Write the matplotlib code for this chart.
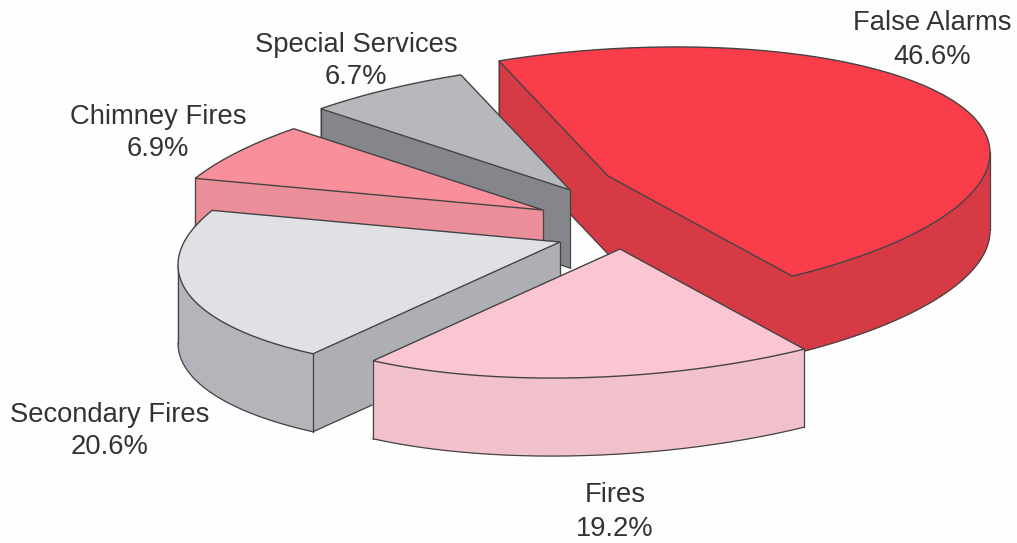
import matplotlib
matplotlib.use('Agg')
import matplotlib.pyplot as plt
import numpy as np

plt.rcParams['font.family'] = ['Liberation Sans', 'DejaVu Sans']

# slices in clockwise order from the start angle
labels = ['False Alarms', 'Fires', 'Secondary Fires', 'Chimney Fires', 'Special Services']
values = [46.6, 19.2, 20.6, 6.9, 6.7]

# style and layout, in image pixels
top_colors = ['#f93d4a', '#fbc6d2', '#dfe1e5', '#f98f9b', '#b7b8bc']
cut_colors = ['#d63a44', '#f1c2cc', '#aeafb4', '#ea8f99', '#85868b']
arc_colors = ['#d63a44', '#f1c2cc', '#b4b5ba', '#ea8f99', '#85868b']
apex_x = [608, 620, 560, 543, 570]
apex_y = [176, 249, 242, 210, 190]
label_x = [932, 615, 110, 158, 356]
label_y = [40, 512, 431, 133, 61]
paint_order = [0, 4, 3, 2, 1]  # back to front

start_angle = 106.6
rad_x = 382
rad_y = 127
tilt = -23
depth = 78
edge = '#444444'


def rim(cx, cy, t):
    return cx + rad_x * np.cos(t), cy - rad_y * np.sin(t) + tilt * np.cos(t)


def cut_visible(cx, cy, px, py, qx, qy):
    # the face under apex-p shows when the far rim point q lies above that edge
    line_y = cy + (py - cy) * (qx - cx) / (px - cx)
    return qy < line_y


fig, ax = plt.subplots(figsize=(10.17, 5.43), dpi=100)
fig.subplots_adjust(0, 0, 1, 1)
fig.patch.set_facecolor('#fefefe')
ax.set_xlim(0, 1017)
ax.set_ylim(543, 0)
ax.axis('off')

sweeps = [v * 360 / sum(values) for v in values]
starts = [start_angle - sum(sweeps[:i]) for i in range(len(values))]

for z, i in enumerate(paint_order):
    t = np.radians(np.linspace(starts[i], starts[i] - sweeps[i], 200))
    cx, cy = apex_x[i], apex_y[i]
    x, y = rim(cx, cy, t)
    zo = z * 3 + 1

    # outer wall, front half of the rim only
    front = np.sin(t) < 0
    if front.any():
        fx, fy = x[front], y[front]
        ax.fill(np.r_[fx, fx[::-1]], np.r_[fy, fy[::-1] + depth],
                facecolor=arc_colors[i], edgecolor=arc_colors[i], lw=0.5, zorder=zo)
        ax.plot(fx, fy + depth, color=edge, lw=0.9, zorder=zo + 1)

    # cut faces that look towards the viewer
    shown = []
    for j, k in [(0, -1), (-1, 0)]:
        vis = cut_visible(cx, cy, x[j], y[j], x[k], y[k])
        shown.append(vis)
        if vis:
            ax.fill([cx, x[j], x[j], cx], [cy, y[j], y[j] + depth, cy + depth],
                    facecolor=cut_colors[i], edgecolor=cut_colors[i], lw=0.5, zorder=zo)
            ax.plot([cx, x[j]], [cy + depth, y[j] + depth], color=edge, lw=0.9, zorder=zo + 1)

    # vertical edges
    if shown[0] != shown[1]:
        ax.plot([cx, cx], [cy, cy + depth], color=edge, lw=0.9, zorder=zo + 1)
    for j, vis in zip([0, -1], shown):
        wall = front[j]
        if (vis != wall) or (vis and wall and cut_colors[i] != arc_colors[i]):
            ax.plot([x[j], x[j]], [y[j], y[j] + depth], color=edge, lw=0.9, zorder=zo + 1)
    for n in range(len(t) - 1):
        # sides of the rim, where it turns from back to front
        if front[n] != front[n + 1]:
            ax.plot([x[n], x[n]], [y[n], y[n] + depth], color=edge, lw=0.9, zorder=zo + 1)

    # top
    ax.fill(np.r_[cx, x], np.r_[cy, y],
            facecolor=top_colors[i], edgecolor=edge, lw=1.0, zorder=zo + 2)

for i in range(len(values)):
    ax.text(label_x[i], label_y[i], '%s\n%.1f%%' % (labels[i], values[i]), ha='center', va='center',
            fontsize=19.7, color='#333333', linespacing=1.35, zorder=30)

fig.savefig('out.png', dpi=100, facecolor=fig.get_facecolor())
